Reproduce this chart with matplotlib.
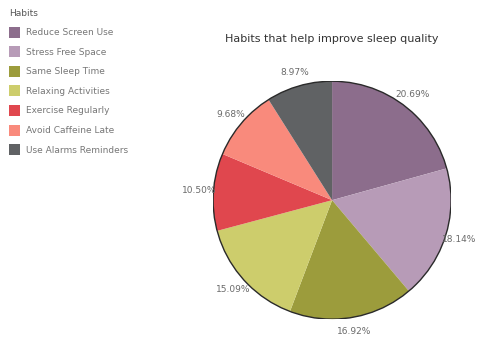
import matplotlib.pyplot as plt
from matplotlib.patches import Circle, Patch

habits = ["Reduce Screen Use", "Stress Free Space", "Same Sleep Time",
          "Relaxing Activities", "Exercise Regularly", "Avoid Caffeine Late",
          "Use Alarms Reminders"]
shares = [20.69, 18.14, 16.92, 15.09, 10.50, 9.68, 8.97]
colors = ["#8c6d8c", "#b79bb7", "#9c9c3c", "#cdcd6c", "#e0474e", "#f98a7c", "#606264"]

fig = plt.figure(figsize=(4.88, 3.37), dpi=100)
fig.patch.set_facecolor("white")

ax = fig.add_axes([0.4365, 0.053, 0.488, 0.706])
wedges, texts, autotexts = ax.pie(
    shares, colors=colors, startangle=90, counterclock=False,
    autopct="%.2f%%", pctdistance=1.12, radius=1,
    wedgeprops=dict(linewidth=0),
    textprops=dict(color="#6a6a6a", fontsize=6.5))
ax.add_patch(Circle((0, 0), 1, fill=False, edgecolor="#2a2a2a", linewidth=1.0))
ax.set_xlim(-1, 1)
ax.set_ylim(-1, 1)
ax.set_aspect("equal")
ax.axis("off")

fig.text(0.68, 0.885, "Habits that help improve sleep quality",
         ha="center", va="center", fontsize=8, color="#333333")

handles = [Patch(facecolor=c, edgecolor="none") for c in colors]
leg = fig.legend(handles, habits, title="Habits", loc="upper left",
                 bbox_to_anchor=(0.0, 1.0), frameon=False, fontsize=6.5,
                 title_fontsize=6.5, handlelength=1.25, handleheight=1.5,
                 handletextpad=0.6, labelspacing=0.95, borderaxespad=0.6)
leg._legend_box.align = "left"
for t in leg.get_texts():
    t.set_color("#777777")
leg.get_title().set_color("#555555")

fig.savefig("out.png", dpi=100)
